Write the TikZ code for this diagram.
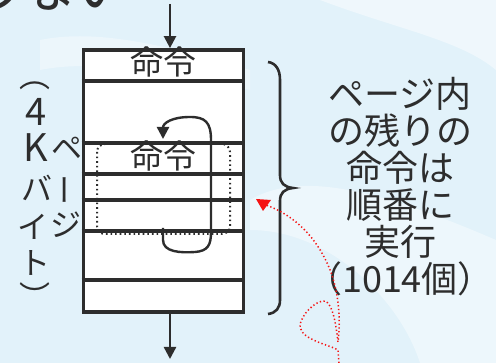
\documentclass[tikz,border=0pt]{standalone}
\usepackage{fontspec}
\setmainfont{Noto Sans CJK JP}
\usetikzlibrary{arrows.meta}
\definecolor{bgblue}{RGB}{226,242,250}
\definecolor{ink}{RGB}{45,45,45}
\definecolor{redann}{RGB}{245,20,20}
\begin{document}
\begin{tikzpicture}[x=1pt,y=-1pt,
  pagebox/.style={draw=ink,line width=3.8pt,fill=white,minimum width=160pt,minimum height=262pt,inner sep=0pt},
  rowline/.style={draw=ink,line width=3.1pt},
  flow/.style={draw=ink,line width=2.4pt,-{Triangle[length=12pt,width=12pt]}},
  jtext/.style={text=ink,font=\fontsize{33}{37}\selectfont,inner sep=0pt},
  desctext/.style={text=ink,font=\fontsize{36}{37}\selectfont,inner sep=0pt,align=center},
  sidetext/.style={text=ink,font=\fontsize{31}{31}\selectfont,inner sep=0pt},
  bigside/.style={text=ink,font=\fontsize{38}{38}\selectfont,inner sep=0pt},
  dotbox/.style={draw=ink,line width=2pt,dash pattern=on 1.6pt off 3pt,rounded corners=8pt},
  bracepath/.style={draw=ink,line width=2.6pt},
  redpath/.style={draw=redann,line width=1.5pt,dash pattern=on 1.3pt off 2.4pt}]
\useasboundingbox (0,0) rectangle (496,363);
\fill[bgblue] (0,0) rectangle (496,363);
% faint background decoration
\fill[white,opacity=0.45] (320,0) .. controls (400,30) and (460,40) .. (496,70) -- (496,0) -- cycle;
\fill[white,opacity=0.4] (250,200) .. controls (300,170) and (380,190) .. (496,240) -- (496,363) -- (420,363) .. controls (400,300) and (330,230) .. (250,230) -- cycle;
\fill[white,opacity=0.35] (40,40) .. controls (90,30) and (150,40) .. (250,70) -- (250,90) .. controls (150,70) and (90,60) .. (40,70) -- cycle;

% title fragment (cut at top)
\node[text=ink,font=\fontsize{56}{56}\selectfont,anchor=base east,inner sep=0pt] (title) at (132,8) {しない};

% page box
\node[pagebox] (page) at (163.5,181) {};
\foreach \yy in {81,143,174,200,231,280}
  \draw[rowline] (page.west |- 0,\yy) -- (page.east |- 0,\yy);
\node[jtext] (cmdA) at (163,62) {命令};
\node[jtext] (cmdB) at (163,156) {命令};

% dotted current block
\draw[dotbox] (97,144) rectangle (230,234);

% loop arrow
\coordinate (loopS) at (163,228);
\coordinate (loopE) at (163,139);
\draw[flow] (loopS) -- (163,240) .. controls (163,252) and (180,253) .. (195,252)
  .. controls (208,251) and (211,245) .. (211,232) -- (211,140)
  .. controls (211,122) and (205,117) .. (190,117)
  .. controls (172,117) and (163,123) .. (loopE);

% in/out arrows
\coordinate (inS) at (170,4);
\coordinate (outE) at (170,359);
\draw[flow] (inS) -- (inS |- page.north);
\draw[flow] (outE |- page.south) -- (outE);

% left vertical text
\node[sidetext] (p1) at (35,86) {︵};
\node[bigside] (p2) at (36,112) {4};
\node[bigside] (p3) at (36,148) {K};
\node[sidetext] (p4) at (67,148) {ペ};
\node[sidetext] (p5) at (37,188) {バ};
\node[sidetext,rotate=90] (p6) at (70,190) {ー};
\node[sidetext] (p7) at (33,227) {イ};
\node[sidetext] (p8) at (66,225) {ジ};
\node[sidetext] (p9) at (35,263) {ト};
\node[sidetext] (p10) at (35,296) {︶};

% brace
\draw[bracepath] (268,62) .. controls (276,63) and (280,70) .. (280,80) -- (280,175)
  .. controls (280,183) and (284,187) .. (293,188)
  .. controls (284,189) and (280,193) .. (280,201) -- (280,300)
  .. controls (280,308) and (276,313) .. (268,314);

% description
\node[desctext] (desc) at (400,187) {ページ内\\の残りの\\命令は\\順番に\\実行\\（1014個）};

% red annotation
\coordinate (redS) at (339,363);
\coordinate (redE) at (266,205);
\draw[redpath] (redS) -- (338,350) .. controls (330,345) and (302,340) .. (300,327)
  .. controls (300,315) and (316,300) .. (325,301)
  .. controls (333,304) and (336,325) .. (338,342)
  .. controls (341,320) and (339,290) .. (328,265)
  .. controls (316,238) and (296,216) .. (redE);
\fill[redann] (256,199) -- (271,200) -- (263,211) -- cycle;
\end{tikzpicture}
\end{document}
